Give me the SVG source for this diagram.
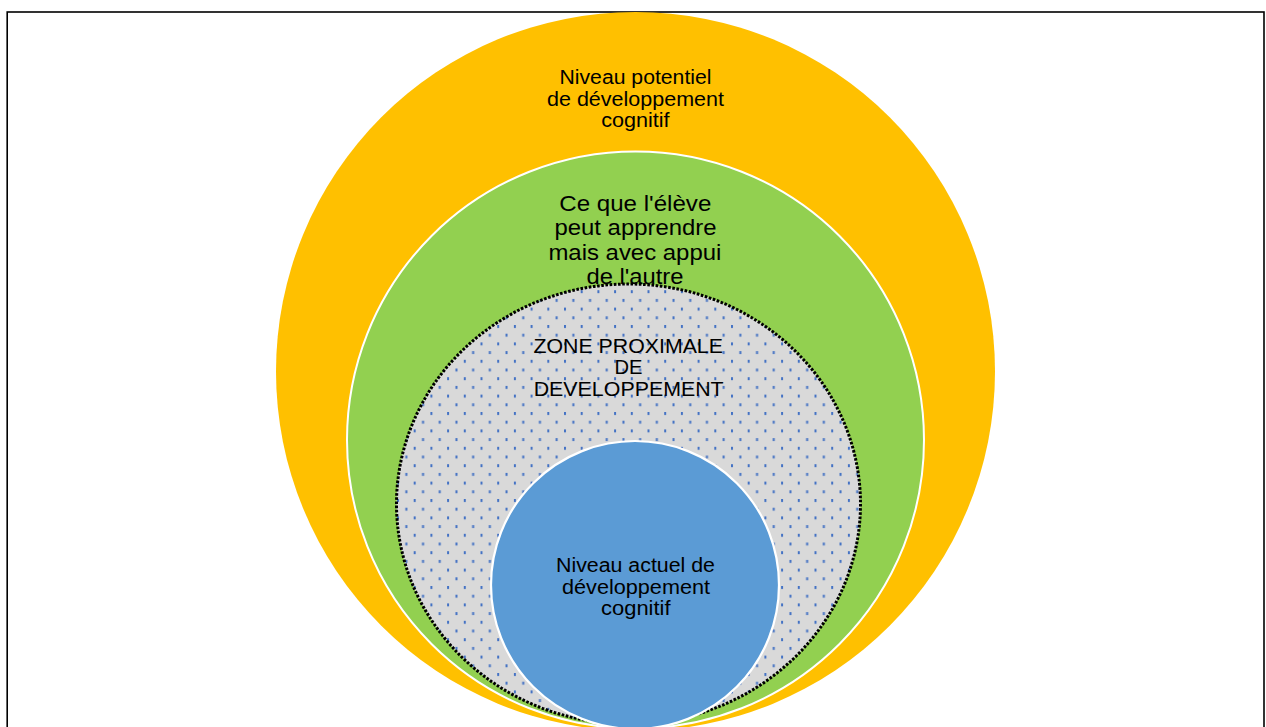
<svg xmlns="http://www.w3.org/2000/svg" width="1266" height="727" viewBox="0 0 1266 727">
  <style>
    .t { font-family: "Liberation Sans", Arial, sans-serif; fill: #000; text-anchor: middle; }
    .s19 { font-size: 19.5px; }
    .s21 { font-size: 22px; }
  </style>
  <defs>
    <pattern id="dots" patternUnits="userSpaceOnUse" x="580.7" y="290.2" width="16.7" height="17.4">
      <rect x="0" y="0" width="2" height="3" fill="#4472C4"/>
      <rect x="8.35" y="8.7" width="2" height="3" fill="#4472C4"/>
    </pattern>
  </defs>
  <rect x="0" y="0" width="1266" height="727" fill="#fff"/>
  <rect x="7.2" y="12" width="1256.8" height="730" fill="none" stroke="#000" stroke-width="1.6"/>

  <g id="niveau-potentiel">
    <circle cx="635.5" cy="371.5" r="359.5" fill="#FFC000"/>
    <text class="t s19" x="635.5" y="84.3" textLength="152" lengthAdjust="spacingAndGlyphs">Niveau potentiel</text>
    <text class="t s19" x="635.5" y="106" textLength="177" lengthAdjust="spacingAndGlyphs">de développement</text>
    <text class="t s19" x="635.4" y="127.3" textLength="68.5" lengthAdjust="spacingAndGlyphs">cognitif</text>
  </g>

  <g id="appui">
    <circle cx="635.5" cy="440" r="288.5" fill="#92D050" stroke="#fff" stroke-width="2"/>
    <text class="t s21" x="635.3" y="211" textLength="152" lengthAdjust="spacingAndGlyphs">Ce que l'élève</text>
    <text class="t s21" x="635.5" y="235" textLength="162" lengthAdjust="spacingAndGlyphs">peut apprendre</text>
    <text class="t s21" x="634.9" y="260" textLength="173" lengthAdjust="spacingAndGlyphs">mais avec appui</text>
    <text class="t s21" x="635" y="284" textLength="97" lengthAdjust="spacingAndGlyphs">de l'autre</text>
  </g>

  <g id="zone-proximale">
    <ellipse cx="628.5" cy="504" rx="232" ry="220" fill="#D9D9D9"/>
    <ellipse cx="628.5" cy="504" rx="232" ry="220" fill="url(#dots)" stroke="#000" stroke-width="3" stroke-dasharray="2.6 1.6"/>
    <text class="t s19" x="628.2" y="352.7" textLength="189.5" lengthAdjust="spacingAndGlyphs">ZONE PROXIMALE</text>
    <text class="t s19" x="628.5" y="374" textLength="28" lengthAdjust="spacingAndGlyphs">DE</text>
    <text class="t s19" x="628.7" y="396" textLength="190" lengthAdjust="spacingAndGlyphs">DEVELOPPEMENT</text>
  </g>

  <g id="niveau-actuel">
    <circle cx="635" cy="585" r="144" fill="#5B9BD5" stroke="#fff" stroke-width="2.2"/>
    <text class="t s19" x="635.5" y="572.3" textLength="159" lengthAdjust="spacingAndGlyphs">Niveau actuel de</text>
    <text class="t s19" x="636" y="594" textLength="148" lengthAdjust="spacingAndGlyphs">développement</text>
    <text class="t s19" x="635.8" y="615" textLength="69.5" lengthAdjust="spacingAndGlyphs">cognitif</text>
  </g>
</svg>
